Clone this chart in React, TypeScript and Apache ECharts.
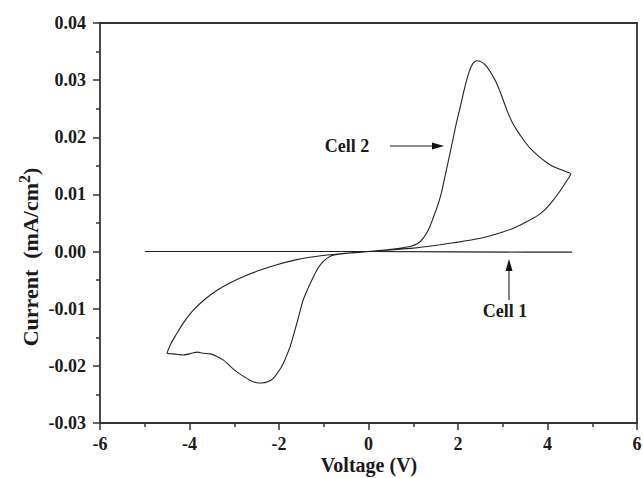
import React, { useEffect, useRef } from "react";
import * as echarts from "echarts";

const xTicks = [-6, -4, -2, 0, 2, 4, 6];
const yTicks = [-0.03, -0.02, -0.01, 0.0, 0.01, 0.02, 0.03, 0.04];

// Cell 1: nearly flat line
const cell1: [number, number][] = [
  [-5.0, 0.0], [-2.5, 0.0], [0.0, 0.0], [2.0, -0.00005], [3.5, -0.0001], [4.55, -0.0001],
];

// Cell 2: closed cyclic voltammogram, in scan order
const cell2: [number, number][] = [
  [0.0, 0.0], [0.5, 0.0004], [0.93, 0.0009], [1.1, 0.0014], [1.22, 0.0023], [1.35, 0.004],
  [1.45, 0.006], [1.54, 0.0079], [1.62, 0.01], [1.7, 0.0128], [1.78, 0.0157], [1.87, 0.019],
  [1.95, 0.022], [2.05, 0.0253], [2.16, 0.029], [2.25, 0.0315], [2.33, 0.0329], [2.42, 0.0334],
  [2.52, 0.0332], [2.64, 0.0324], [2.83, 0.03], [2.95, 0.0278], [3.09, 0.0248], [3.2, 0.0228],
  [3.31, 0.0213], [3.45, 0.0197], [3.61, 0.0181], [3.8, 0.0167], [3.98, 0.0156], [4.15, 0.0148],
  [4.35, 0.0142], [4.45, 0.0139], [4.52, 0.0136],
  [4.43, 0.0124], [4.28, 0.0106], [4.13, 0.009], [3.95, 0.0074], [3.76, 0.0062], [3.5, 0.0051],
  [3.24, 0.0041], [2.95, 0.0033], [2.64, 0.0026], [2.35, 0.0021], [2.04, 0.0017], [1.6, 0.0012],
  [1.0, 0.0006], [0.5, 0.0003], [0.0, 0.0],
  [-0.3, -0.0002], [-0.6, -0.0004], [-0.85, -0.0008], [-1.01, -0.0017], [-1.12, -0.0028],
  [-1.23, -0.0044], [-1.35, -0.0064], [-1.46, -0.0085], [-1.6, -0.0125], [-1.75, -0.0166],
  [-1.85, -0.0186], [-1.94, -0.0201], [-2.13, -0.0222], [-2.25, -0.0228], [-2.39, -0.023],
  [-2.52, -0.0229], [-2.65, -0.0225], [-2.8, -0.0218], [-2.95, -0.021], [-3.1, -0.02],
  [-3.24, -0.019], [-3.4, -0.0183], [-3.54, -0.0179], [-3.7, -0.0178], [-3.82, -0.0176],
  [-3.91, -0.0177], [-4.0, -0.0179], [-4.14, -0.0181], [-4.25, -0.018], [-4.36, -0.0179],
  [-4.5, -0.0178],
  [-4.42, -0.0162], [-4.32, -0.0148], [-4.12, -0.0123], [-3.92, -0.0103], [-3.65, -0.0083],
  [-3.39, -0.0068], [-3.1, -0.0055], [-2.8, -0.0044], [-2.4, -0.0032], [-2.05, -0.0023],
  [-1.65, -0.0015], [-1.31, -0.001], [-0.79, -0.0005], [-0.4, -0.0002], [0.0, 0.0],
];

const FONT = "'Liberation Serif', 'DejaVu Serif', serif";
const INK = "#1a1a1a";
const AXIS = "#333";

export default function App() {
  const ref = useRef<HTMLDivElement>(null);
  useEffect(() => {
    if (!ref.current) return;
    const chart = echarts.init(ref.current, undefined, { renderer: "svg" });
    const labelStyle = { color: INK, fontFamily: FONT, fontWeight: "bold" as const, fontSize: 18 };
    chart.setOption({
      animation: false,
      backgroundColor: "#fff",
      grid: { left: 100, right: 6, top: 23, bottom: 55, containLabel: false, outerBoundsMode: "none" },
      xAxis: [
        {
          type: "value",
          min: xTicks[0],
          max: xTicks[xTicks.length - 1],
          interval: 2,
          position: "bottom",
          axisLine: { show: true, onZero: false, lineStyle: { color: AXIS, width: 1.8 } },
          axisTick: { show: true, inside: false, length: 7, lineStyle: { color: AXIS, width: 1.5 } },
          minorTick: { show: true, splitNumber: 2, length: 4, lineStyle: { color: AXIS, width: 1.5 } },
          splitLine: { show: false },
          axisLabel: { ...labelStyle, margin: 12, formatter: (v: number) => String(Math.round(v)) },
        },
        {
          type: "value",
          min: -6,
          max: 6,
          position: "top",
          axisLine: { show: true, onZero: false, lineStyle: { color: AXIS, width: 1.8 } },
          axisTick: { show: false },
          axisLabel: { show: false },
          splitLine: { show: false },
        },
      ],
      yAxis: [
        {
          type: "value",
          min: yTicks[0],
          max: yTicks[yTicks.length - 1],
          interval: 0.01,
          position: "left",
          axisLine: { show: true, onZero: false, lineStyle: { color: AXIS, width: 1.8 } },
          axisTick: { show: true, inside: false, length: 7, lineStyle: { color: AXIS, width: 1.5 } },
          minorTick: { show: true, splitNumber: 2, length: 4, lineStyle: { color: AXIS, width: 1.5 } },
          splitLine: { show: false },
          axisLabel: { ...labelStyle, margin: 14, formatter: (v: number) => (Math.abs(v) < 1e-9 ? 0 : v).toFixed(2) },
        },
        {
          type: "value",
          min: -0.03,
          max: 0.04,
          position: "right",
          axisLine: { show: true, onZero: false, lineStyle: { color: AXIS, width: 1.8 } },
          axisTick: { show: false },
          axisLabel: { show: false },
          splitLine: { show: false },
        },
      ],
      series: [
        {
          name: "Cell 1",
          type: "line",
          data: cell1,
          showSymbol: false,
          lineStyle: { color: "#222", width: 1.1 },
        },
        {
          name: "Cell 2",
          type: "line",
          data: cell2,
          showSymbol: false,
          smooth: 0.3,
          lineStyle: { color: "#222", width: 1.1 },
        },
      ],
      graphic: [
        {
          type: "text",
          x: 369,
          y: 465,
          style: { text: "Voltage (V)", align: "center", verticalAlign: "middle", fontFamily: FONT, fontWeight: "bold", fontSize: 20, fill: INK },
        },
        {
          type: "text",
          x: 30,
          y: 257,
          rotation: Math.PI / 2,
          style: {
            text: "{a|Current  (mA/cm}{s|2}{a|)}",
            align: "center",
            verticalAlign: "middle",
            rich: {
              a: { fontFamily: FONT, fontWeight: "bold", fontSize: 22, fill: INK, color: INK },
              s: { fontFamily: FONT, fontWeight: "bold", fontSize: 16, fill: INK, color: INK, padding: [0, 0, 12, 0] },
            },
          },
        },
        {
          type: "text",
          x: 347,
          y: 146,
          style: { text: "Cell 2", align: "center", verticalAlign: "middle", fontFamily: FONT, fontWeight: "bold", fontSize: 18, fill: INK },
        },
        { type: "line", shape: { x1: 390, y1: 146, x2: 434, y2: 146 }, style: { stroke: "#222", lineWidth: 1.1 } },
        { type: "polygon", shape: { points: [[444, 146], [432, 142.5], [432, 149.5]] }, style: { fill: "#111" } },
        {
          type: "text",
          x: 505,
          y: 311,
          style: { text: "Cell 1", align: "center", verticalAlign: "middle", fontFamily: FONT, fontWeight: "bold", fontSize: 18, fill: INK },
        },
        { type: "line", shape: { x1: 509, y1: 300, x2: 509, y2: 268 }, style: { stroke: "#222", lineWidth: 1.1 } },
        { type: "polygon", shape: { points: [[509, 259], [505.5, 271], [512.5, 271]] }, style: { fill: "#111" } },
      ],
    });
    return () => chart.dispose();
  }, []);
  return <div ref={ref} style={{ width: 643, height: 478, position: "absolute", left: 0, top: 0 }} />;
}
